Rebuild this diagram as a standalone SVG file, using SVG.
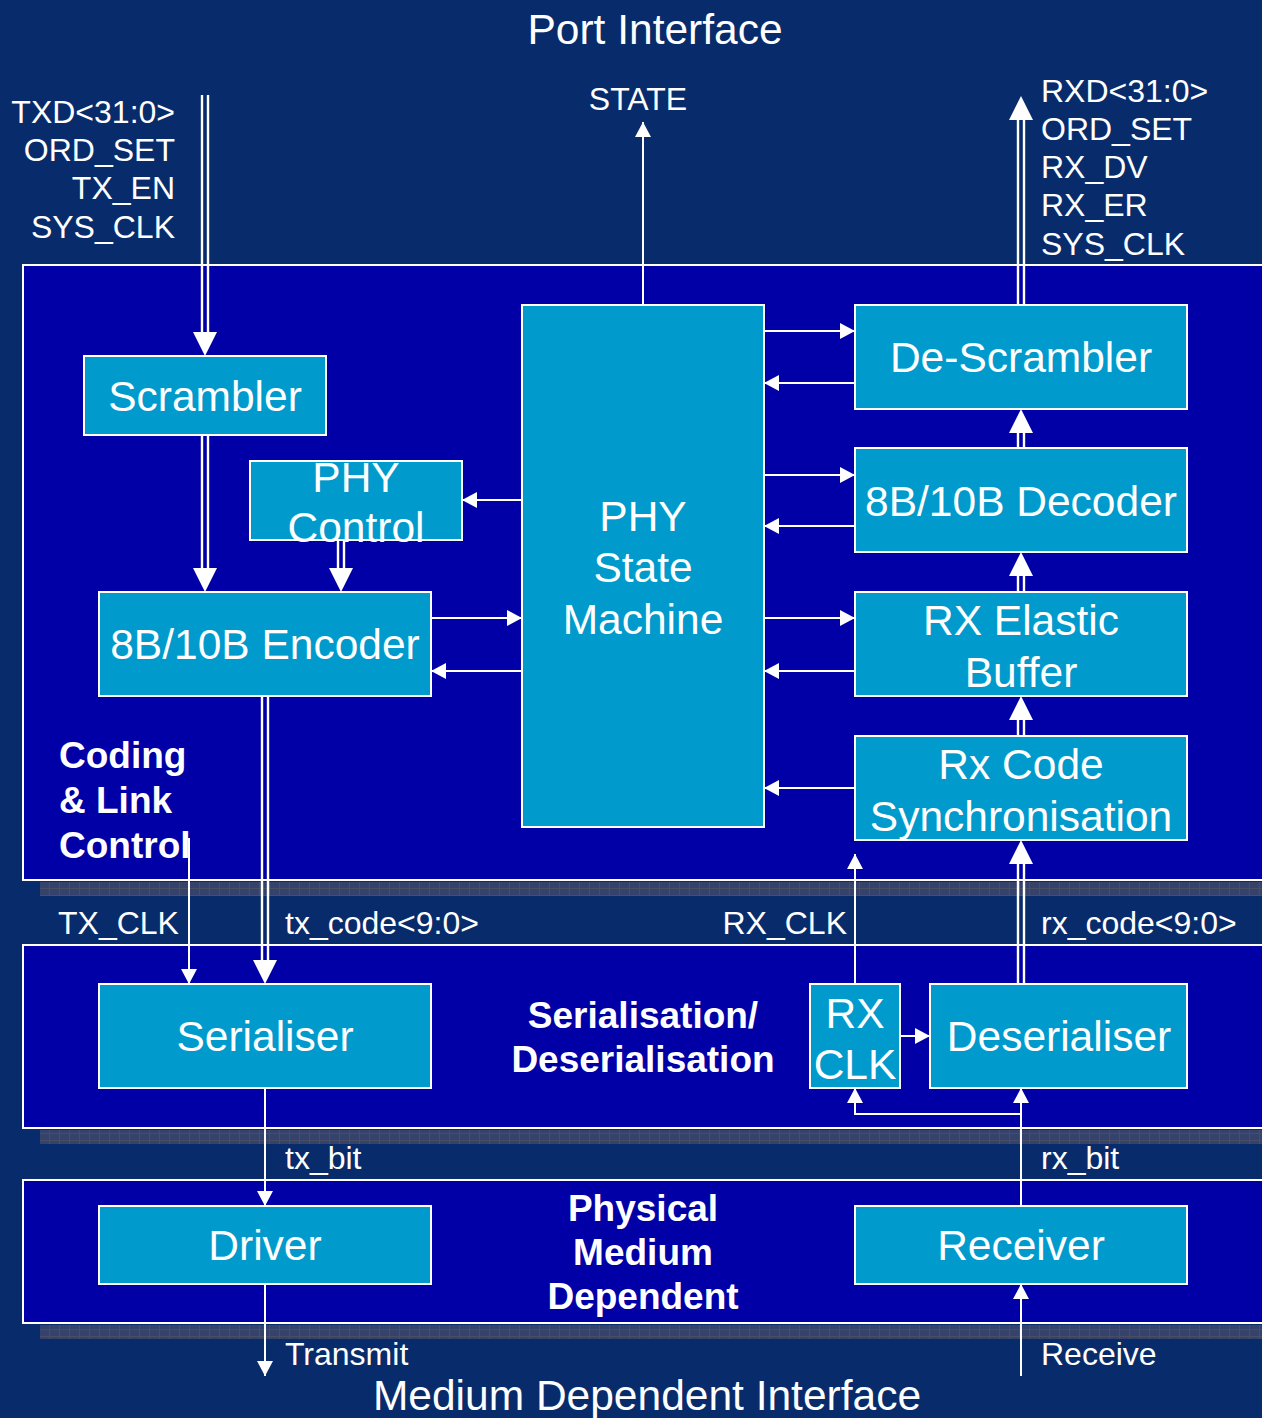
<svg xmlns="http://www.w3.org/2000/svg" width="1262" height="1418" viewBox="0 0 1262 1418">
<style>
.panel{fill:#0000A6;stroke:#ffffff;stroke-width:2}
.box{fill:#009BCC;stroke:#ffffff;stroke-width:2}
.t{font-family:"Liberation Sans",Arial,sans-serif;fill:#ffffff}
.big{font-size:42.5px;text-anchor:middle}
.sm{font-size:32px}
.bold{font-size:37px;font-weight:bold}
.ln{stroke:#ffffff;stroke-width:2;fill:none}
.dl{stroke:#ffffff;stroke-width:2.4;fill:none}
.sa{stroke:#ffffff;stroke-width:2;fill:none;marker-end:url(#sa)}
.ba{stroke:none;fill:none;marker-end:url(#ba)}
</style>
<defs>
<marker id="sa" markerUnits="userSpaceOnUse" markerWidth="16" markerHeight="16" refX="15" refY="8" orient="auto">
<path d="M0,0 L15,8 L0,16 Z" fill="#ffffff"/>
</marker>
<marker id="ba" markerUnits="userSpaceOnUse" markerWidth="26" markerHeight="26" refX="24" refY="12" orient="auto">
<path d="M0,0 L24,12 L0,24 Z" fill="#ffffff"/>
</marker>
<pattern id="grid" width="10" height="7" patternUnits="userSpaceOnUse">
<rect width="10" height="7" fill="#34426C"/>
<path d="M9.5,0 V7 M0,6.5 H10" stroke="#4A4E62" stroke-width="1"/>
</pattern>
</defs>
<rect width="1262" height="1418" fill="#082C6B"/>

<g id="panels">
<rect x="40" y="882" width="1230" height="14" fill="url(#grid)"/>
<rect x="40" y="1130" width="1230" height="14" fill="url(#grid)"/>
<rect x="40" y="1325" width="1230" height="14" fill="url(#grid)"/>
<rect id="panel-coding" class="panel" x="23" y="265" width="1250" height="615"/>
<rect id="panel-serdes" class="panel" x="23" y="945" width="1250" height="183"/>
<rect id="panel-pmd" class="panel" x="23" y="1180" width="1250" height="143"/>
</g>

<g id="connectors">
<line class="dl" x1="202" y1="95" x2="202" y2="334"/>
<line class="dl" x1="208" y1="95" x2="208" y2="334"/>
<path class="ba" d="M205,300 L205,356"/>
<line class="dl" x1="202" y1="435" x2="202" y2="570"/>
<line class="dl" x1="208" y1="435" x2="208" y2="570"/>
<path class="ba" d="M205,540 L205,592"/>
<line class="dl" x1="338" y1="540" x2="338" y2="570"/>
<line class="dl" x1="344" y1="540" x2="344" y2="570"/>
<path class="ba" d="M341,550 L341,592"/>
<line class="dl" x1="262" y1="696" x2="262" y2="962"/>
<line class="dl" x1="268" y1="696" x2="268" y2="962"/>
<path class="ba" d="M265,930 L265,984"/>
<path class="sa" d="M189,838 L189,984"/>
<path class="sa" d="M643,305 L643,122"/>
<line class="dl" x1="1018" y1="305" x2="1018" y2="118"/>
<line class="dl" x1="1024" y1="305" x2="1024" y2="118"/>
<path class="ba" d="M1021,150 L1021,96"/>
<path class="sa" d="M764,331 L855,331"/>
<path class="sa" d="M855,383 L764,383"/>
<path class="sa" d="M764,475 L855,475"/>
<path class="sa" d="M855,526 L764,526"/>
<path class="sa" d="M764,618 L855,618"/>
<path class="sa" d="M855,671 L764,671"/>
<path class="sa" d="M855,788 L764,788"/>
<path class="sa" d="M522,500 L462,500"/>
<path class="sa" d="M431,618 L522,618"/>
<path class="sa" d="M522,671 L431,671"/>
<line class="dl" x1="1018" y1="448" x2="1018" y2="430"/>
<line class="dl" x1="1024" y1="448" x2="1024" y2="430"/>
<path class="ba" d="M1021,440 L1021,409"/>
<line class="dl" x1="1018" y1="592" x2="1018" y2="574"/>
<line class="dl" x1="1024" y1="592" x2="1024" y2="574"/>
<path class="ba" d="M1021,584 L1021,552"/>
<line class="dl" x1="1018" y1="736" x2="1018" y2="718"/>
<line class="dl" x1="1024" y1="736" x2="1024" y2="718"/>
<path class="ba" d="M1021,728 L1021,696"/>
<line class="dl" x1="1018" y1="984" x2="1018" y2="862"/>
<line class="dl" x1="1024" y1="984" x2="1024" y2="862"/>
<path class="ba" d="M1021,900 L1021,840"/>
<path class="sa" d="M855,984 L855,854"/>
<path class="sa" d="M900,1036 L930,1036"/>
<path class="sa" d="M1021,1206 L1021,1088"/>
<path class="sa" d="M1021,1114 L855,1114 L855,1088"/>
<path class="sa" d="M265,1088 L265,1206"/>
<path class="sa" d="M265,1284 L265,1376"/>
<path class="sa" d="M1021,1376 L1021,1284"/>
</g>

<g id="scrambler"><rect class="box" x="84" y="356" width="242" height="79"/><text class="t big" x="205" y="411">Scrambler</text></g>
<g id="phy-control"><rect class="box" x="250" y="461" width="212" height="79"/><text class="t big" x="356" y="492">PHY</text><text class="t big" x="356" y="542">Control</text></g>
<g id="encoder"><rect class="box" x="99" y="592" width="332" height="104"/><text class="t big" x="265" y="659">8B/10B Encoder</text></g>
<g id="phy-state-machine"><rect class="box" x="522" y="305" width="242" height="522"/><text class="t big" x="643" y="531">PHY</text><text class="t big" x="643" y="582">State</text><text class="t big" x="643" y="634">Machine</text></g>
<g id="de-scrambler"><rect class="box" x="855" y="305" width="332" height="104"/><text class="t big" x="1021" y="372">De-Scrambler</text></g>
<g id="decoder"><rect class="box" x="855" y="448" width="332" height="104"/><text class="t big" x="1021" y="516">8B/10B Decoder</text></g>
<g id="elastic-buffer"><rect class="box" x="855" y="592" width="332" height="104"/><text class="t big" x="1021" y="635">RX Elastic</text><text class="t big" x="1021" y="687">Buffer</text></g>
<g id="rx-code-sync"><rect class="box" x="855" y="736" width="332" height="104"/><text class="t big" x="1021" y="779">Rx Code</text><text class="t big" x="1021" y="831">Synchronisation</text></g>
<g id="serialiser"><rect class="box" x="99" y="984" width="332" height="104"/><text class="t big" x="265" y="1051">Serialiser</text></g>
<g id="rx-clk"><rect class="box" x="810" y="984" width="90" height="104"/><text class="t big" x="855" y="1028">RX</text><text class="t big" x="855" y="1079">CLK</text></g>
<g id="deserialiser"><rect class="box" x="930" y="984" width="257" height="104"/><text class="t big" x="1059" y="1051">Deserialiser</text></g>
<g id="driver"><rect class="box" x="99" y="1206" width="332" height="78"/><text class="t big" x="265" y="1260">Driver</text></g>
<g id="receiver"><rect class="box" x="855" y="1206" width="332" height="78"/><text class="t big" x="1021" y="1260">Receiver</text></g>

<g id="labels">
<text class="t big" x="655" y="44">Port Interface</text>
<text class="t big" x="647" y="1410">Medium Dependent Interface</text>
<text class="t sm" x="638" y="110" text-anchor="middle">STATE</text>
<text class="t sm" x="175" y="123" text-anchor="end">TXD&lt;31:0&gt;</text>
<text class="t sm" x="175" y="161" text-anchor="end">ORD_SET</text>
<text class="t sm" x="175" y="199" text-anchor="end">TX_EN</text>
<text class="t sm" x="175" y="238" text-anchor="end">SYS_CLK</text>
<text class="t sm" x="1041" y="102">RXD&lt;31:0&gt;</text>
<text class="t sm" x="1041" y="140">ORD_SET</text>
<text class="t sm" x="1041" y="178">RX_DV</text>
<text class="t sm" x="1041" y="216">RX_ER</text>
<text class="t sm" x="1041" y="255">SYS_CLK</text>
<text class="t bold" x="59" y="768">Coding</text>
<text class="t bold" x="59" y="813">&amp; Link</text>
<text class="t bold" x="59" y="858">Control</text>
<text class="t sm" x="58" y="934">TX_CLK</text>
<text class="t sm" x="285" y="934">tx_code&lt;9:0&gt;</text>
<text class="t sm" x="847" y="934" text-anchor="end">RX_CLK</text>
<text class="t sm" x="1041" y="934">rx_code&lt;9:0&gt;</text>
<text class="t bold" x="643" y="1028" text-anchor="middle">Serialisation/</text>
<text class="t bold" x="643" y="1072" text-anchor="middle">Deserialisation</text>
<text class="t sm" x="285" y="1169">tx_bit</text>
<text class="t sm" x="1041" y="1169">rx_bit</text>
<text class="t bold" x="643" y="1221" text-anchor="middle">Physical</text>
<text class="t bold" x="643" y="1265" text-anchor="middle">Medium</text>
<text class="t bold" x="643" y="1309" text-anchor="middle">Dependent</text>
<text class="t sm" x="285" y="1365">Transmit</text>
<text class="t sm" x="1041" y="1365">Receive</text>
</g>
</svg>
